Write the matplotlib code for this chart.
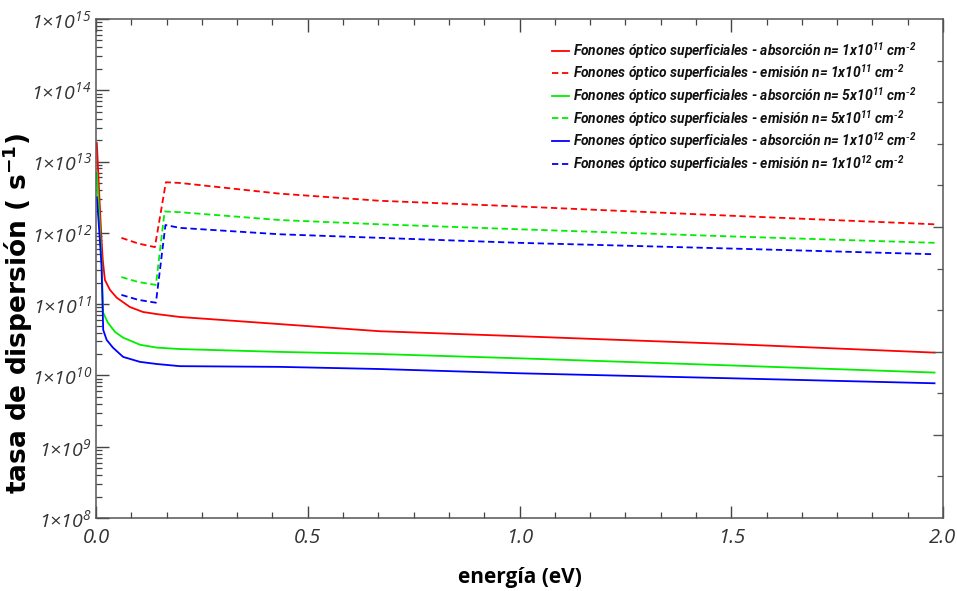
import numpy as np
import matplotlib
matplotlib.use("Agg")
import matplotlib.pyplot as plt
from matplotlib.ticker import FixedLocator, FuncFormatter, LogLocator, MultipleLocator, NullFormatter

plt.rcParams['font.family'] = ['Open Sans', 'DejaVu Sans']
plt.rcParams['mathtext.default'] = 'regular'

# ------------------------
# datos (log10 de la tasa, s^-1)
# ------------------------
abs_n1_x = [0.002, 0.008, 0.013, 0.016, 0.021, 0.033, 0.049, 0.08, 0.111, 0.144, 0.198, 0.434, 0.67, 1.0, 1.5, 1.98]
abs_n1_y = [13.26, 12.5, 11.9, 11.62, 11.34, 11.20, 11.09, 10.96, 10.89, 10.86, 10.82, 10.72, 10.62, 10.55, 10.44, 10.32]

abs_n5_x = [0.002, 0.008, 0.013, 0.017, 0.028, 0.045, 0.064, 0.104, 0.144, 0.198, 0.434, 0.67, 1.0, 1.5, 1.98]
abs_n5_y = [12.84, 12.2, 11.62, 10.88, 10.74, 10.61, 10.53, 10.43, 10.39, 10.37, 10.33, 10.30, 10.24, 10.14, 10.04]

abs_n10_x = [0.002, 0.008, 0.013, 0.017, 0.025, 0.040, 0.064, 0.104, 0.144, 0.198, 0.434, 0.67, 1.0, 1.5, 1.98]
abs_n10_y = [12.50, 12.0, 11.55, 10.64, 10.50, 10.39, 10.26, 10.19, 10.16, 10.13, 10.12, 10.09, 10.03, 9.96, 9.89]

em_n1_x = [0.06, 0.10, 0.139, 0.165, 0.198, 0.434, 0.67, 1.0, 1.5, 1.98]
em_n1_y = [11.93, 11.85, 11.80, 12.71, 12.70, 12.55, 12.45, 12.37, 12.24, 12.12]

em_n5_x = [0.06, 0.10, 0.1415, 0.162, 0.198, 0.434, 0.67, 1.0, 1.5, 1.98]
em_n5_y = [11.38, 11.31, 11.27, 12.30, 12.29, 12.18, 12.12, 12.05, 11.95, 11.86]

em_n10_x = [0.06, 0.10, 0.1415, 0.164, 0.198, 0.434, 0.67, 1.0, 1.5, 1.98]
em_n10_y = [11.13, 11.06, 11.02, 12.11, 12.07, 11.98, 11.93, 11.86, 11.78, 11.70]

labels = [
    r"Fonones óptico superficiales - absorción n= 1x10$^{11}$ cm$^{\text{-}2}$",
    r"Fonones óptico superficiales - emisión n= 1x10$^{11}$ cm$^{\text{-}2}$",
    r"Fonones óptico superficiales - absorción n= 5x10$^{11}$ cm$^{\text{-}2}$",
    r"Fonones óptico superficiales - emisión n= 5x10$^{11}$ cm$^{\text{-}2}$",
    r"Fonones óptico superficiales - absorción n= 1x10$^{12}$ cm$^{\text{-}2}$",
    r"Fonones óptico superficiales - emisión n= 1x10$^{12}$ cm$^{\text{-}2}$",
]

# ------------------------
# figura
# ------------------------
fig = plt.figure(figsize=(9.57, 5.91), dpi=100)
ax = fig.add_axes([96/957, 1-518/591, (943-96)/957, (518-19)/591])

series = [
    (abs_n1_x, abs_n1_y, '#ff0000', '-'),
    (em_n1_x, em_n1_y, '#ff0000', '--'),
    (abs_n5_x, abs_n5_y, '#00ee00', '-'),
    (em_n5_x, em_n5_y, '#00ee00', '--'),
    (abs_n10_x, abs_n10_y, '#0000ff', '-'),
    (em_n10_x, em_n10_y, '#0000ff', '--'),
]
for (xs, ys, c, ls), lab in zip(series, labels):
    line, = ax.plot(xs, 10**np.array(ys), color=c, ls=ls, lw=1.3, label=lab)
    if ls == '--':
        line.set_dashes((3.5, 2))

ax.set_yscale('log')
ax.set_xlim(0, 2)
ax.set_ylim(1e8, 1e15)

ax.yaxis.set_major_locator(LogLocator(base=10, numticks=20))
ax.yaxis.set_minor_locator(LogLocator(base=10, subs=np.arange(2, 10), numticks=20))
ax.yaxis.set_minor_formatter(NullFormatter())
ax.yaxis.set_major_formatter(FuncFormatter(lambda v, p: "1×10$^{%d}$" % int(round(np.log10(v)))))
ax.xaxis.set_major_locator(MultipleLocator(0.5))
ax.xaxis.set_minor_locator(MultipleLocator(1/12))
ax.xaxis.set_major_formatter(FuncFormatter(lambda v, p: "%.1f" % v))

ax.tick_params(which='both', direction='in', top=True, right=False, colors='#444444',
               labelcolor='#333333', labelsize=14)
ax.tick_params(which='major', length=9, width=1)
ax.tick_params(which='minor', length=4.5, width=0.9)
ax.tick_params(axis='x', pad=7, labelsize=14.5)
ax.tick_params(axis='y', pad=3)
for lab in ax.get_xticklabels() + ax.get_yticklabels():
    lab.set_fontstyle('italic')
for sp in ax.spines.values():
    sp.set_color('#555555')
    sp.set_linewidth(1.1)

# eje derecho con marcas propias
ax2 = ax.twinx()
ax2.set_ylim(0, 12)
ax2.yaxis.set_major_locator(FixedLocator([2, 4, 7]))
ax2.yaxis.set_minor_locator(FixedLocator(range(1, 12)))
ax2.tick_params(which='both', direction='in', labelright=False, colors='#555555')
ax2.tick_params(which='major', length=7, width=1)
ax2.tick_params(which='minor', length=4.5, width=0.9)
for sp in ax2.spines.values():
    sp.set_visible(False)

ax.set_xlabel("energía (eV)", fontsize=15, fontweight='bold', labelpad=14)
ax.set_ylabel("tasa de dispersión ( s$^{-1}$)", fontsize=19, fontweight='bold',
              family=['DejaVu Sans'], labelpad=0)
ax.yaxis.set_label_coords(-0.072, 0.41)

leg = ax.legend(loc='upper left', bbox_to_anchor=(0.538, 0.958), frameon=False,
                prop={'family': ['Roboto', 'Open Sans'], 'weight': 'bold',
                      'style': 'italic', 'size': 10},
                handlelength=1.25, handletextpad=0.3, labelspacing=0.12,
                borderpad=0, borderaxespad=0)
for t in leg.get_texts():
    t.set_color('#111111')

fig.savefig('out.png', dpi=100, facecolor='white')
